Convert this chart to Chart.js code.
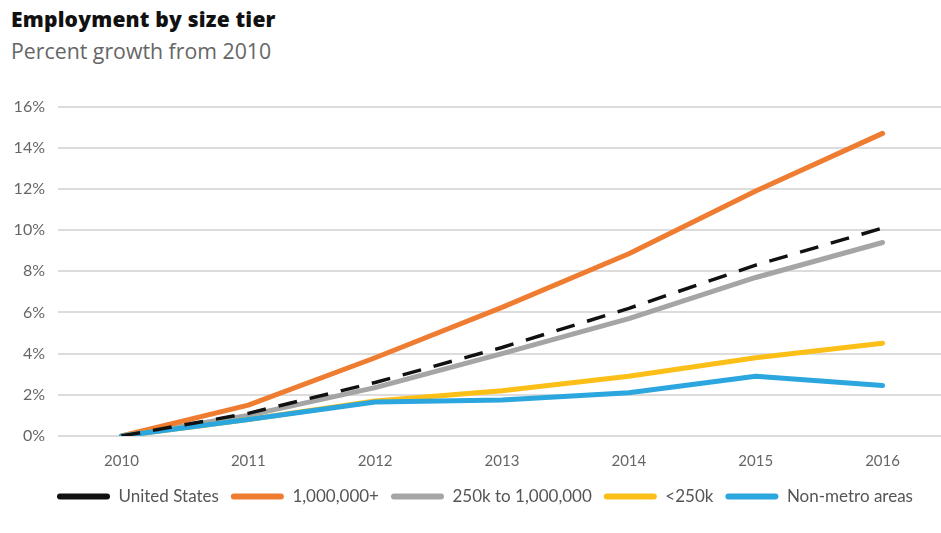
<!DOCTYPE html>
<html>
<head>
<meta charset="utf-8">
<script src="https://cdn.jsdelivr.net/npm/chart.js@4"></script>
<style>
  body { margin: 0; background: #fff; font-family: "Open Sans", sans-serif; overflow: hidden; }
  #title { position: absolute; left: 11px; top: 5px; font-size: 21px; font-weight: 800; color: #111; letter-spacing: 0.2px; }
  #subtitle { position: absolute; left: 11px; top: 36px; font-size: 21.3px; color: #666; }
  #wrap { position: absolute; left: 0; top: 84px; width: 946px; height: 449px; }
</style>
</head>
<body>
<div id="title">Employment by size tier</div>
<div id="subtitle">Percent growth from 2010</div>
<div id="wrap"><canvas id="chart"></canvas></div>
<script>
const years = ["2010", "2011", "2012", "2013", "2014", "2015", "2016"];
const unitedStates = [0, 1.1, 2.6, 4.3, 6.2, 8.3, 10.1];
const metroLarge = [0, 1.5, 3.8, 6.25, 8.85, 11.9, 14.7];
const metroMid = [0, 1.0, 2.35, 4.0, 5.7, 7.7, 9.4];
const metroSmall = [0, 0.8, 1.7, 2.2, 2.9, 3.8, 4.5];
const nonMetro = [0, 0.8, 1.65, 1.75, 2.1, 2.9, 2.45];

const ctx = document.getElementById("chart").getContext("2d");

function line(label, data, color, order, extra) {
  return Object.assign({
    label: label,
    data: data,
    borderColor: color,
    backgroundColor: color,
    borderWidth: 5,
    pointRadius: 0,
    tension: 0,
    borderCapStyle: "round",
    borderJoinStyle: "round",
    order: order,
  }, extra || {});
}

// legend sits under the plot, not at the canvas edge
const legendShift = {
  id: "legendShift",
  afterLayout(chart) {
    chart.legend.left += 45;
    chart.legend.top -= 10;
  },
};

new Chart(ctx, {
  type: "line",
  data: {
    labels: years,
    datasets: [
      line("United States", unitedStates, "#111111", 0, { borderWidth: 3.5, borderDash: [19, 13], borderCapStyle: "butt" }),
      line("1,000,000+", metroLarge, "#ee7d32", 3),
      line("250k to 1,000,000", metroMid, "#a5a5a5", 4),
      line("<250k", metroSmall, "#fcbf17", 2),
      line("Non-metro areas", nonMetro, "#2ba6de", 1),
    ],
  },
  plugins: [legendShift],
  options: {
    responsive: true,
    maintainAspectRatio: false,
    animation: false,
    layout: { padding: { top: 10, right: 0, left: 0, bottom: 8 } },
    plugins: {
      tooltip: { enabled: false },
      legend: {
        position: "bottom",
        align: "start",
        labels: {
          color: "#555",
          font: { family: "Lato", size: 17 },
          boxWidth: 53,
          boxHeight: 6,
          padding: 12,
          generateLabels: (chart) =>
            chart.data.datasets.map((ds, i) => ({
              text: ds.label,
              fillStyle: ds.borderColor,
              strokeStyle: ds.borderColor,
              lineWidth: 0,
              lineDash: [],
              borderRadius: 3,
              datasetIndex: i,
              fontColor: "#555",
            })),
        },
      },
    },
    scales: {
      x: {
        offset: true,
        grid: { display: false, drawTicks: false },
        border: { display: false },
        ticks: { color: "#666", font: { family: "Lato", size: 15 }, padding: 16 },
      },
      y: {
        min: 0,
        max: 16,
        grid: { color: "#dcdcdc", lineWidth: 2, drawTicks: false },
        border: { display: false },
        afterFit: (scale) => { scale.width = 58; },
        ticks: {
          stepSize: 2,
          color: "#666",
          padding: 13,
          font: { family: "Lato", size: 16 },
          callback: (v) => v + "%",
        },
      },
    },
  },
});
</script>
</body>
</html>
